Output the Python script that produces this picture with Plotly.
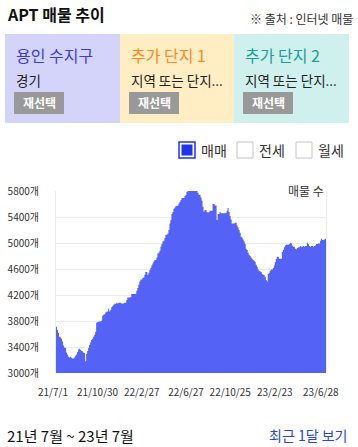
import pandas as pd
import plotly.graph_objects as go

# ---- data ----
listing_counts = [
    3712, 3661, 3620, 3558, 3548, 3528, 3486, 3425, 3394, 3384,
    3317, 3286, 3251, 3240, 3251, 3235, 3225, 3225, 3240, 3266,
    3286, 3323, 3363, 3374, 3353, 3343, 3333, 3312, 3307, 3179,
    3292, 3333, 3384, 3435, 3471, 3507, 3528, 3558, 3589, 3630,
    3774, 3784, 3789, 3794, 3794, 3805, 3881, 3897, 3902, 3932,
    3943, 3948, 3989, 3948, 3969, 4010, 4031, 4051, 4066, 4066,
    4081, 4071, 4081, 4081, 4081, 4071, 4071, 4071, 4081, 4081,
    4123, 4163, 4163, 4163, 4168, 4215, 4215, 4215, 4215, 4220,
    4266, 4307, 4358, 4409, 4440, 4440, 4461, 4471, 4512, 4553,
    4553, 4512, 4543, 4584, 4615, 4655, 4686, 4717, 4738, 4738,
    4778, 4840, 4850, 4881, 4943, 4984, 5025, 5035, 5076, 5127,
    5127, 5147, 5199, 5301, 5353, 5445, 5476, 5527, 5547, 5568,
    5568, 5578, 5609, 5630, 5660, 5691, 5691, 5691, 5722, 5742,
    5783, 5814, 5824, 5834, 5834, 5834, 5834, 5824, 5804, 5799,
    5799, 5773, 5742, 5742, 5701, 5650, 5558, 5486, 5507, 5507,
    5476, 5466, 5476, 5497, 5497, 5497, 5599, 5599, 5578, 5578,
    5353, 5445, 5445, 5476, 5456, 5456, 5456, 5456, 5456, 5466,
    5497, 5537, 5476, 5414, 5363, 5301, 5301, 5301, 5312, 5312,
    5271, 5240, 5199, 5158, 5096, 5086, 5055, 5025, 4984, 4912,
    4892, 4850, 4820, 4799, 4778, 4758, 4738, 4727, 4707, 4666,
    4635, 4594, 4573, 4563, 4553, 4522, 4512, 4502, 4481, 4430,
    4410, 4522, 4543, 4573, 4594, 4594, 4615, 4655, 4707, 4758,
    4789, 4789, 4758, 4758, 4758, 4861, 4892, 4933, 4963, 4973,
    4973, 4973, 4984, 5004, 4994, 4963, 4943, 4943, 4912, 4902,
    4922, 4933, 4933, 4953, 4943, 4943, 4953, 4943, 4953, 4953,
    5004, 4984, 4953, 4943, 4953, 4953, 4943, 4953, 4963, 4984,
    4984, 4994, 4994, 5035, 5066, 5045, 5050, 5055, 5066, 5014,
]
start_date = "2021-07-01"
end_date = "2023-07-04"
dates = pd.date_range(start=start_date, end=end_date, periods=len(listing_counts))

tick_dates = ["2021-07-01", "2021-10-30", "2022-02-27", "2022-06-27",
              "2022-10-25", "2023-02-23", "2023-06-28"]
tick_labels = ["21/7/1", "21/10/30", "22/2/27", "22/6/27",
               "22/10/25", "23/2/23", "23/6/28"]
y_ticks = [3000, 3400, 3800, 4200, 4600, 5000, 5400, 5800]
y_tick_labels = [f"{v}개" for v in y_ticks]

panel_titles = ["용인 수지구", "추가 단지 1", "추가 단지 2"]
panel_subtitles = ["경기", "지역 또는 단지...", "지역 또는 단지..."]
legend_items = ["매매", "전세", "월세"]

# ---- layout helpers (pixel -> paper) ----
W, H = 358, 447
L, R, T, B = 56, 326, 191, 373
PW, PH = R - L, B - T
FONT = "Noto Sans CJK KR"


def px(x):
    return (x - L) / PW


def py(y):
    return (B - y) / PH


fig = go.Figure()
fig.add_trace(go.Scatter(
    x=dates, y=listing_counts, mode="lines", line_shape="hv",
    line=dict(width=0, color="#5462f5"), fill="tozeroy",
    fillcolor="#5462f5", hoverinfo="x+y", showlegend=False,
))

shapes = []
annotations = []

# panels
panel_x = [(5, 120), (120, 234), (234, 349)]
panel_bg = ["#d4d4fb", "#ffedc3", "#d0f0ee"]
title_colors = ["#3b3be6", "#ff8a1c", "#16a096"]
for (x0, x1), bg, tc, t, s in zip(panel_x, panel_bg, title_colors, panel_titles, panel_subtitles):
    shapes.append(dict(type="rect", xref="paper", yref="paper", x0=px(x0), x1=px(x1),
                       y0=py(123), y1=py(34), fillcolor=bg, line=dict(width=0), layer="below"))
    annotations.append(dict(text=t, x=px(x0 + 9), y=py(55), xref="paper", yref="paper",
                            xanchor="left", yanchor="middle", showarrow=False,
                            font=dict(size=16, color=tc, family=FONT)))
    annotations.append(dict(text=s, x=px(x0 + 9), y=py(80), xref="paper", yref="paper",
                            xanchor="left", yanchor="middle", showarrow=False,
                            font=dict(size=13.5, color="#222", family=FONT)))
    shapes.append(dict(type="rect", xref="paper", yref="paper", x0=px(x0 + 9), x1=px(x0 + 59),
                       y0=py(114), y1=py(92), fillcolor="#999999", line=dict(width=0)))
    annotations.append(dict(text="<b>재선택</b>", x=px(x0 + 34), y=py(103), xref="paper", yref="paper",
                            xanchor="center", yanchor="middle", showarrow=False,
                            font=dict(size=12, color="white", family=FONT)))

# header
annotations.append(dict(text="<b>APT 매물 추이</b>", x=px(5), y=py(14), xref="paper", yref="paper",
                        xanchor="left", yanchor="middle", showarrow=False,
                        font=dict(size=16, color="#111", family=FONT)))
annotations.append(dict(text="※ 출처 : 인터넷 매물", x=px(355), y=py(18), xref="paper", yref="paper",
                        xanchor="right", yanchor="middle", showarrow=False,
                        font=dict(size=12, color="#333", family=FONT)))

# legend checkboxes
box_x = [179, 237, 296]
for i, (bx, lab) in enumerate(zip(box_x, legend_items)):
    if i == 0:
        shapes.append(dict(type="rect", xref="paper", yref="paper", x0=px(bx), x1=px(bx + 16),
                           y0=py(158), y1=py(142), fillcolor="white",
                           line=dict(width=1.5, color="#2233ee")))
        shapes.append(dict(type="rect", xref="paper", yref="paper", x0=px(bx + 2.5), x1=px(bx + 13.5),
                           y0=py(155.5), y1=py(144.5), fillcolor="#2233ee", line=dict(width=0)))
    else:
        shapes.append(dict(type="rect", xref="paper", yref="paper", x0=px(bx), x1=px(bx + 16),
                           y0=py(158), y1=py(142), fillcolor="white",
                           line=dict(width=1, color="#c4c4c4")))
    annotations.append(dict(text=lab, x=px(bx + 20), y=py(150), xref="paper", yref="paper",
                            xanchor="left", yanchor="middle", showarrow=False,
                            font=dict(size=14, color="#333", family=FONT)))

# axis caption
annotations.append(dict(text="매물 수", x=px(326), y=py(190), xref="paper", yref="paper",
                        xanchor="right", yanchor="middle", showarrow=False,
                        font=dict(size=12, color="#333", family=FONT)))

# footer
annotations.append(dict(text="21년 7월 ~ 23년 7월", x=px(5), y=py(435), xref="paper", yref="paper",
                        xanchor="left", yanchor="middle", showarrow=False,
                        font=dict(size=15, color="#111", family=FONT)))
annotations.append(dict(text="최근 1달 보기", x=px(349), y=py(435), xref="paper", yref="paper",
                        xanchor="right", yanchor="middle", showarrow=False,
                        font=dict(size=14, color="#2a45dd", family=FONT)))

fig.update_layout(
    width=W, height=H,
    margin=dict(l=L, r=W - R, t=T, b=H - B, pad=0, autoexpand=False),
    paper_bgcolor="white", plot_bgcolor="white",
    font=dict(family=FONT, color="#333"),
    shapes=shapes, annotations=annotations,
    showlegend=False,
    xaxis=dict(
        type="date", range=[dates[0], dates[-1]],
        tickvals=pd.to_datetime(tick_dates), ticktext=tick_labels,
        tickfont=dict(size=10, color="#333", family=FONT), tickangle=0,
        showgrid=False, zeroline=False, showline=False, ticks="",
        ticklabelshift=-3, ticklabelstandoff=12, fixedrange=True, automargin=False,
    ),
    yaxis=dict(
        range=[3000, 5800], tickvals=y_ticks, ticktext=y_tick_labels,
        tickfont=dict(size=10, color="#333", family=FONT),
        showgrid=True, gridcolor="#ececec", gridwidth=1,
        zeroline=False, showline=True, linecolor="#ececec", linewidth=1, mirror=True,
        ticks="", ticklabelstandoff=14, fixedrange=True, automargin=False,
    ),
)

fig.write_html(
    "out.html", include_plotlyjs=True, config={"displayModeBar": False},
    post_script="document.body.style.margin='0';document.body.style.overflow='hidden';",
)
